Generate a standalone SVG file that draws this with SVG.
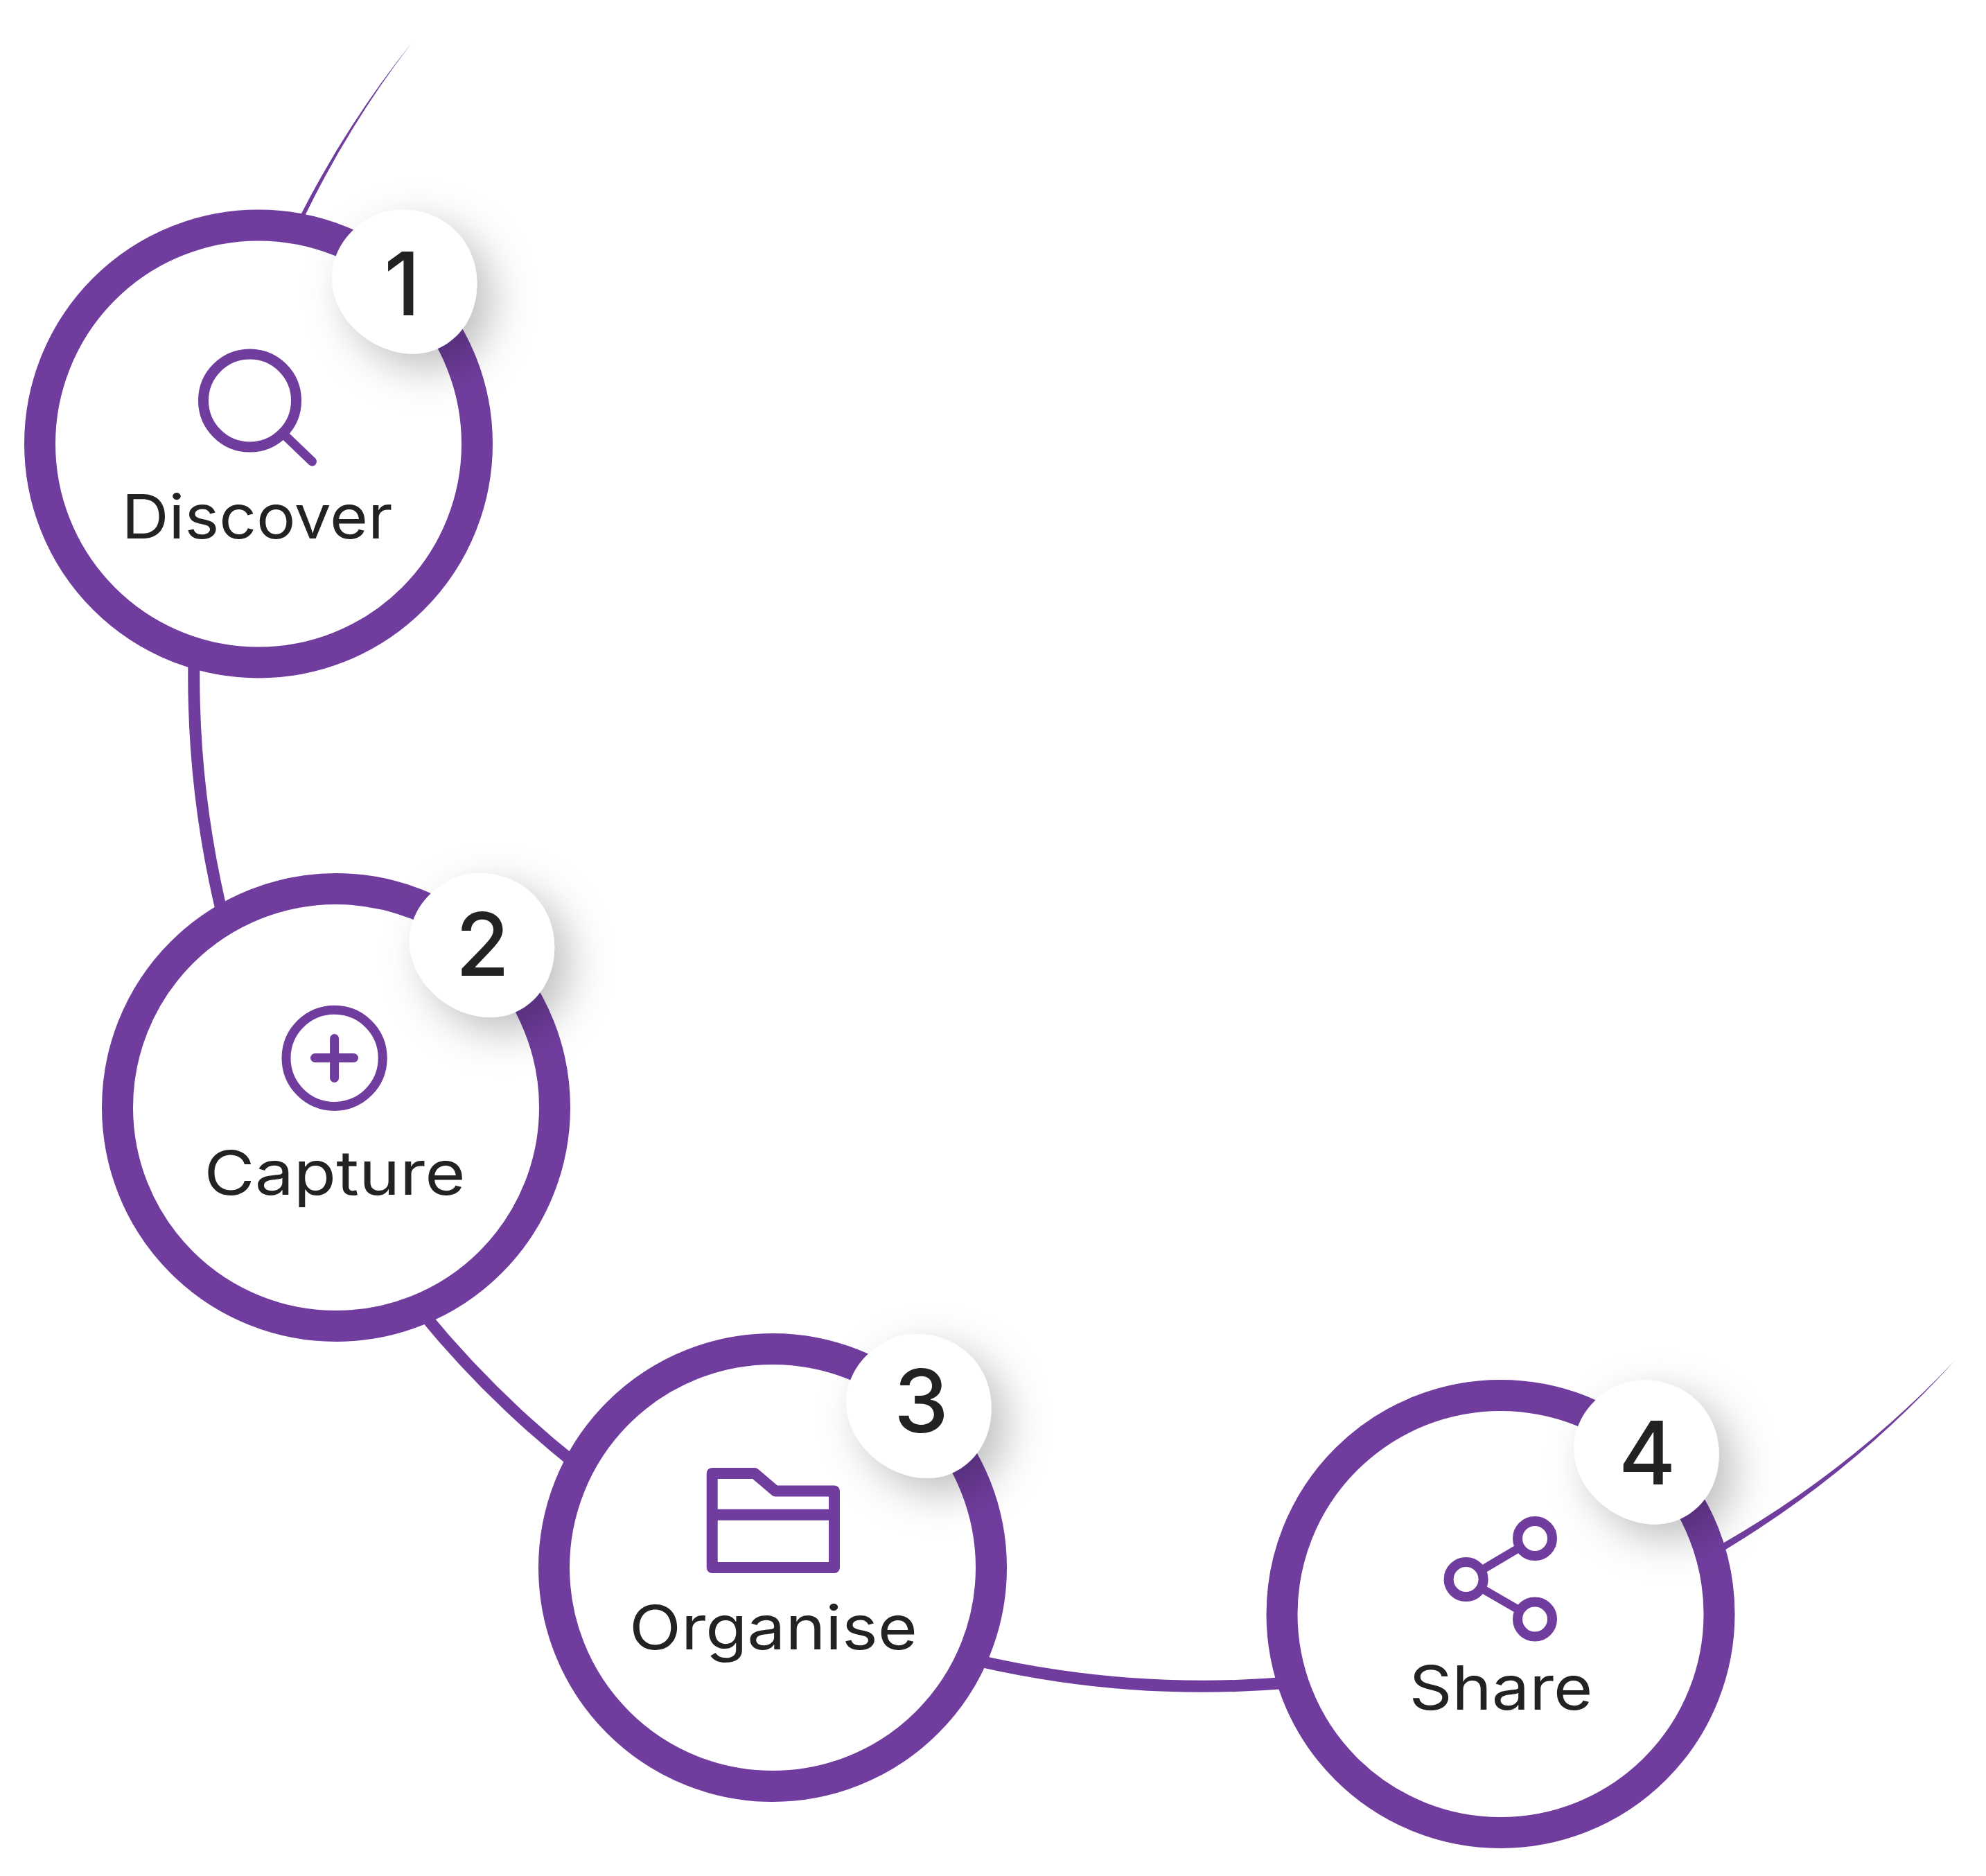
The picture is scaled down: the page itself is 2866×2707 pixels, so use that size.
<svg xmlns="http://www.w3.org/2000/svg" width="2866" height="2707" viewBox="0 0 2866 2707">
<style>
.ring{fill:#fff;stroke:#703d9e;stroke-width:45}
.ico{fill:none;stroke:#703d9e;stroke-linecap:round;stroke-linejoin:round}
.conn{fill:none;stroke:#703d9e;stroke-width:17}
.taper{fill:#703d9e}
.label{font-family:"Inter","Liberation Sans",sans-serif;font-size:88px;fill:#222;text-anchor:start}
.num{font-family:"Inter","Liberation Sans",sans-serif;font-size:126px;font-weight:500;fill:#222;text-anchor:middle}
.blob{fill:#fff;filter:url(#sh)}
</style>
<defs>
<filter id="sh" x="-80%" y="-80%" width="260%" height="260%">
<feDropShadow dx="22" dy="22" stdDeviation="30" flood-color="#000" flood-opacity="0.25"/>
</filter>
<path id="b" d="M-4 -104C58 -104 104.6 -58 104.6 3C104.6 60 65 104 12 104C-45 104 -104.6 55 -104.6 -6C-104.6 -60 -55 -104 -4 -104Z"/>
</defs>
<g id="connectors">
<path class="taper" d="M594 62A1460 1460 0 0 0 435 308L424.4 325L430 326.7L440.8 309.7A1460 1460 0 0 1 594 62Z"/>
<path class="conn" d="M280 950A1457 1457 0 0 0 321 1320"/>
<path class="conn" d="M610 1895A1453 1453 0 0 0 830 2112"/>
<path class="conn" d="M1410 2396A1456 1456 0 0 0 1860 2428"/>
<path class="taper" d="M2822 1962A1460 1460 0 0 1 2487 2226.5L2470 2237L2475 2245.4L2491.8 2235A1460 1460 0 0 0 2822 1962Z"/>
</g>
<g id="node1">
<circle class="ring" cx="373" cy="640.5" r="315.5"/>
<circle class="ico" cx="360.5" cy="578" r="67" stroke-width="15"/>
<path class="ico" d="M413 630L450.5 666" stroke-width="13"/>
<text class="label" x="175.5" y="777" textLength="391" lengthAdjust="spacingAndGlyphs">Discover</text>
<use class="blob" href="#b" x="583.7" y="406.5"/>
<text class="num" x="580.5" y="455">1</text>
</g>
<g id="node2">
<circle class="ring" cx="485" cy="1598" r="315.5"/>
<circle class="ico" cx="482.6" cy="1526.8" r="69.6" stroke-width="13"/>
<path class="ico" d="M454.5 1526.5H510.5M482.6 1498.5V1555.5" stroke-width="13"/>
<text class="label" x="294.5" y="1723.5" textLength="377" lengthAdjust="spacingAndGlyphs">Capture</text>
<use class="blob" href="#b" x="695.5" y="1364"/>
<text class="num" x="696.3" y="1408">2</text>
</g>
<g id="node3">
<circle class="ring" cx="1115" cy="2262" r="315.5"/>
<path class="ico" d="M1027.7 2262V2126H1089L1119 2151.5H1204V2262ZM1027.7 2185.7H1204" stroke-width="16"/>
<text class="label" x="908" y="2380" textLength="416" lengthAdjust="spacingAndGlyphs">Organise</text>
<use class="blob" href="#b" x="1326" y="2029"/>
<text class="num" x="1329.5" y="2067">3</text>
</g>
<g id="node4">
<circle class="ring" cx="2165.5" cy="2329" r="315.5"/>
<path class="ico" d="M2115.6 2279L2215 2220M2115.6 2279L2215 2336.5" stroke-width="12"/>
<g fill="#fff" stroke="#703d9e" stroke-width="14">
<circle cx="2215" cy="2220" r="25"/>
<circle cx="2115.6" cy="2279" r="25"/>
<circle cx="2215" cy="2336.5" r="25"/>
</g>
<text class="label" x="2033.5" y="2467" textLength="265" lengthAdjust="spacingAndGlyphs">Share</text>
<use class="blob" href="#b" x="2376" y="2095.5"/>
<text class="num" x="2377" y="2142">4</text>
</g>
</svg>
